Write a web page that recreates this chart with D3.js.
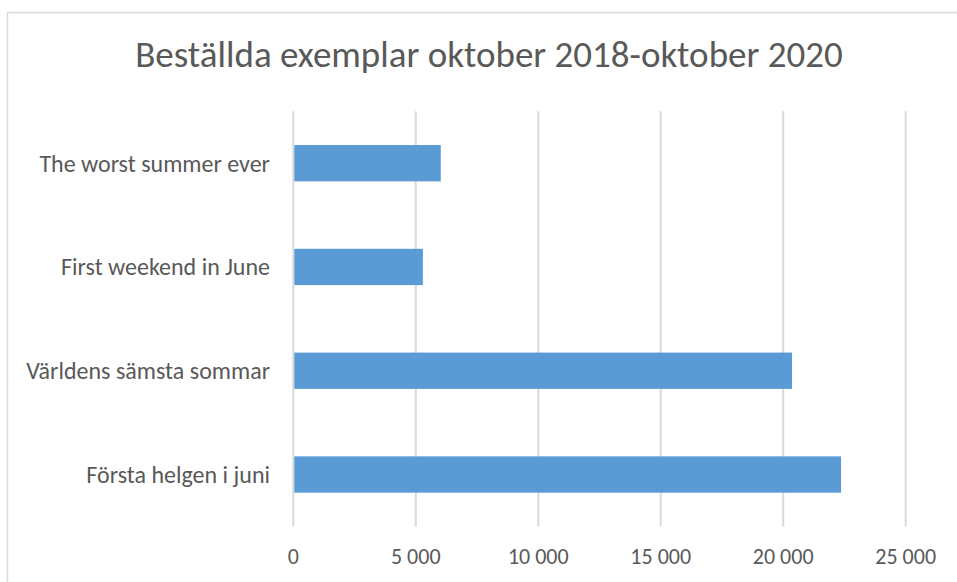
<!DOCTYPE html>
<html>
<head>
<meta charset="utf-8">
<script src="https://cdn.jsdelivr.net/npm/d3@7"></script>
<style>
  body { margin: 0; background: #fff; }
  text { font-family: Carlito, Calibri, Lato, sans-serif; fill: #595959; }
</style>
</head>
<body>
<div class="chart"></div>
<script>
// data
var titleText = "Beställda exemplar oktober 2018-oktober 2020";
var categories = ["The worst summer ever", "First weekend in June", "Världens sämsta sommar", "Första helgen i juni"];
var values = [6020, 5290, 20360, 22360];
var xTicks = [0, 5000, 10000, 15000, 20000, 25000];

//Width and height
var w = 957;
var h = 582;
var plotLeft = 293.3, plotRight = 905.7, plotTop = 111.3, plotBottom = 526.4;

var svg = d3.select(".chart")
            .append("svg")
            .attr("width", w)
            .attr("height", h);

// chart border (only left and top edges are in view)
svg.append("path")
    .attr("d", "M7.5," + h + "V12.5H" + w)
    .attr("fill", "none")
    .attr("stroke", "#d9d9d9")
    .attr("stroke-width", 1.5);

svg.append("text")
    .attr("x", 489)
    .attr("y", 67)
    .attr("text-anchor", "middle")
    .style("font-size", "37px")
    .text(titleText);

var x = d3.scaleLinear()
          .domain([0, 25000])
          .range([plotLeft, plotRight]);

var y = d3.scaleBand()
          .domain(categories)
          .range([plotTop, plotBottom])
          .paddingInner(0.65)
          .paddingOuter(0.325);

var fmt = function(d) {
  return d3.format(",")(d).replace(/,/g, " ");
};

// gridlines
svg.selectAll("line.grid")
    .data(xTicks)
    .enter()
    .append("line")
    .attr("class", "grid")
    .attr("x1", function(d) { return x(d); })
    .attr("x2", function(d) { return x(d); })
    .attr("y1", plotTop)
    .attr("y2", plotBottom)
    .attr("stroke", "#d9d9d9")
    .attr("stroke-width", 2);

// bars
svg.selectAll("rect")
    .data(values)
    .enter()
    .append("rect")
    .attr("x", x(0) + 1)
    .attr("y", function(d, i) { return y(categories[i]); })
    .attr("width", function(d) { return x(d) - x(0) - 1; })
    .attr("height", y.bandwidth())
    .attr("fill", "#5b9bd5");

// category labels
svg.selectAll("text.cat")
    .data(categories)
    .enter()
    .append("text")
    .attr("class", "cat")
    .attr("x", 270)
    .attr("y", function(d) { return y(d) + y.bandwidth() / 2; })
    .attr("dy", "0.35em")
    .attr("text-anchor", "end")
    .style("font-size", "24px")
    .text(function(d) { return d; });

// tick labels
svg.selectAll("text.tick")
    .data(xTicks)
    .enter()
    .append("text")
    .attr("class", "tick")
    .attr("x", function(d) { return x(d); })
    .attr("y", 556)
    .attr("dy", "0.35em")
    .attr("text-anchor", "middle")
    .style("font-size", "22px")
    .text(fmt);
</script>
</body>
</html>
